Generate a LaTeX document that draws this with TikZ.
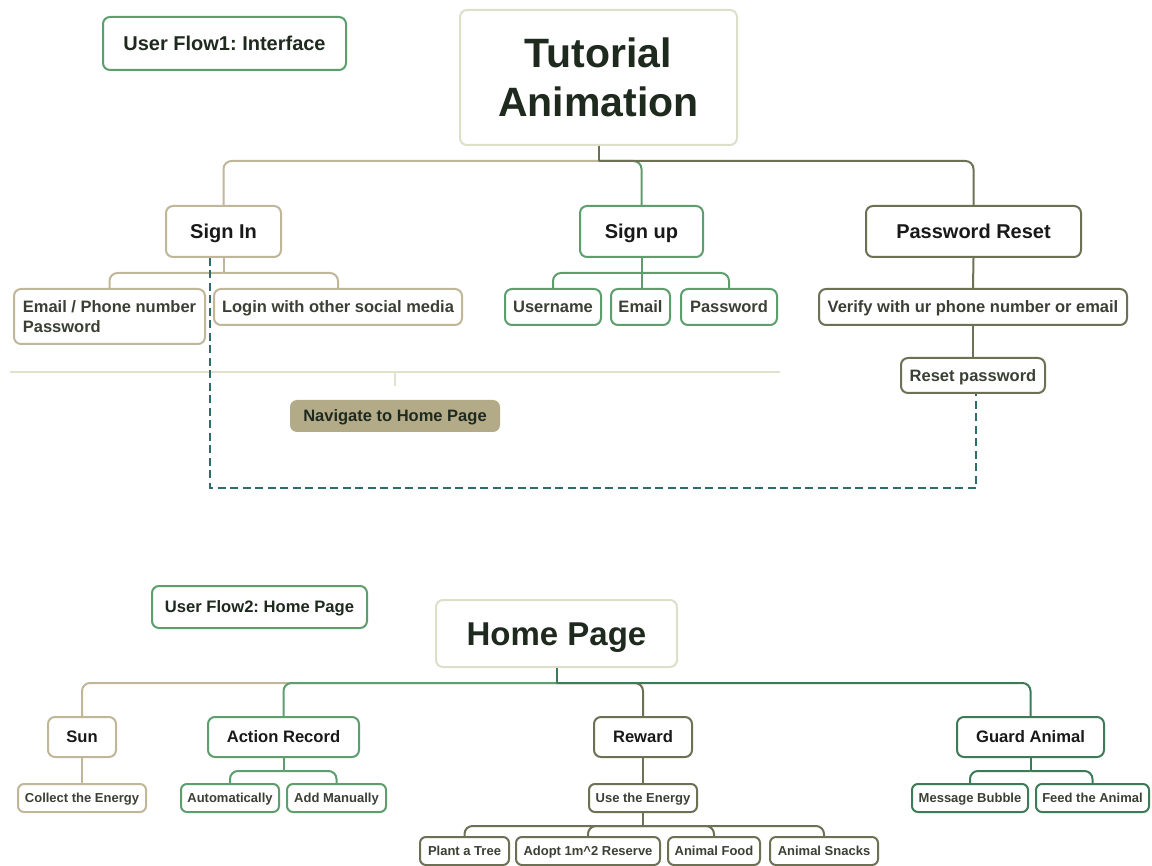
\documentclass[tikz,border=0pt]{standalone}
\usepackage{fontspec}
\setmainfont{Liberation Sans}
\frenchspacing
\definecolor{tanc}{HTML}{C0B699}
\definecolor{greenc}{HTML}{5E9E6E}
\definecolor{olivec}{HTML}{6E7055}
\definecolor{dgreenc}{HTML}{3E7A57}
\definecolor{beigec}{HTML}{DEDFCA}
\definecolor{tealc}{HTML}{2C6E6C}
\definecolor{navfill}{HTML}{B3AA88}
\definecolor{sepc}{HTML}{E2E2CC}
\definecolor{txtdark}{HTML}{1F2A1F}
\definecolor{txtchild}{HTML}{3A4034}
\newcommand{\fsz}[1]{\fontsize{#1}{#1}\selectfont\bfseries}
\tikzset{
  box/.style={draw, rounded corners=7pt, line width=2pt, fill=white, inner sep=0pt, align=center},
  bw/.style 2 args={minimum width=#1, minimum height=#2},
  lvtitle/.style={font=\fontsize{41}{49}\selectfont\bfseries, text=txtdark},
  lvone/.style={font=\fsz{20}, text=black!90, text height=18.3pt, text depth=4pt},
  lvtwo/.style={font=\fontsize{16.5}{20}\selectfont\bfseries, text=txtchild},
  vtwo/.style={text height=15.1pt, text depth=3.3pt},
  lvsub/.style={font=\fsz{16.6}, text=black!90, text height=15.2pt, text depth=3.3pt},
  lvsmall/.style={font=\fsz{13}, text=txtchild, rounded corners=6pt, text height=11.9pt, text depth=2.6pt},
  conn/.style={line width=2pt, rounded corners=8pt},
  dashconn/.style={line width=2pt, tealc, dash pattern=on 8pt off 4.5pt},
}
\begin{document}
\begin{tikzpicture}[x=1pt,y=-1pt]
\useasboundingbox (0,0) rectangle (1152,866);

% ---------- User flow 1 ----------
\node[box, draw=greenc, bw={243}{53}, lvone, text=txtdark] (uf1) at (224.5,43.5) {User Flow1: Interface};
\node[box, draw=beigec, bw={277}{135}, lvtitle] (tut) at (598.5,77.5) {Tutorial\\Animation};

\node[box, draw=tanc, bw={115}{51}, lvone] (si) at (223.5,231.5) {Sign In};
\node[box, draw=greenc, bw={123}{51}, lvone] (su) at (641.5,231.5) {Sign up};
\node[box, draw=olivec, bw={215}{51}, lvone] (pr) at (973.5,231.5) {Password Reset};

\node[box, draw=tanc, bw={191}{55}, lvtwo, align=left] (ep) at (109.5,316.5) {Email / Phone number\\Password};
\node[box, draw=tanc, bw={248}{36}, lvtwo, vtwo] (lo) at (338,307) {Login with other social media};
\node[box, draw=greenc, bw={96}{36}, lvtwo, vtwo] (un) at (553,307) {Username};
\node[box, draw=greenc, bw={59}{36}, lvtwo, vtwo] (em) at (640.5,307) {Email};
\node[box, draw=greenc, bw={96}{36}, lvtwo, vtwo] (pw) at (729,307) {Password};
\node[box, draw=olivec, bw={308}{36}, lvtwo, vtwo] (ve) at (973,307) {Verify with ur phone number or email};
\node[box, draw=olivec, bw={144}{35}, lvtwo, vtwo] (rp) at (973,375.5) {Reset password};

\node[box, draw=none, fill=navfill, bw={210}{32}, lvtwo, vtwo, text=txtdark] (nav) at (395,416) {Navigate to Home Page};

% connectors top tree
\draw[line width=2pt, tanc] (tut.south) -- ++(0,15) coordinate (jt);
\draw[conn, tanc] (jt) -| (si.north);
\draw[conn, greenc] (jt) -| (su.north);
\draw[conn, olivec] (jt) -| (pr.north);
\draw[line width=2pt, olivec] (tut.south) -- (jt);

\draw[line width=2pt, tanc] (si.south) -- ++(0,15) coordinate (jsi);
\draw[conn, tanc] (jsi) -| (ep.north);
\draw[conn, tanc] (jsi) -| (lo.north);

\draw[line width=2pt, greenc] (su.south) -- ++(0,15) coordinate (jsu);
\draw[conn, greenc] (jsu) -| (un.north);
\draw[line width=2pt, greenc] (jsu) -- (em.north -| jsu);
\draw[conn, greenc] (jsu) -| (pw.north);

\draw[line width=2pt, olivec] (pr.south) -- (ve.north);
\draw[line width=2pt, olivec] (ve.south) -- (rp.north);

% separator
\coordinate (sepL) at (10,372);
\coordinate (sepR) at (780,372);
\draw[line width=2pt, sepc] (sepL) -- (sepR);
\draw[line width=1.5pt, sepc] (nav.north |- sepL) -- ([yshift=13pt]nav.north);

% dashed loop
\draw[dashconn] ([xshift=-13.5pt]si.south) -- ++(0,230) -| ([xshift=3pt]rp.south);

% ---------- User flow 2 ----------
\node[box, draw=greenc, bw={215}{42}, lvsub, text=txtdark] (uf2) at (259.5,607) {User Flow2: Home Page};
\node[box, draw=beigec, bw={241}{67}, font=\fsz{33}, text=txtdark, text height=30.2pt, text depth=6.6pt] (hp) at (556.5,633.5) {Home Page};

\node[box, draw=tanc, bw={68}{40}, lvsub] (sun) at (82,737) {Sun};
\node[box, draw=greenc, bw={151}{40}, lvsub] (ar) at (283.5,737) {Action Record};
\node[box, draw=olivec, bw={98}{40}, lvsub] (rw) at (643,737) {Reward};
\node[box, draw=dgreenc, bw={147}{40}, lvsub] (ga) at (1030.5,737) {Guard Animal};

\node[box, draw=tanc, bw={128}{28}, lvsmall] (ce) at (82,798) {Collect the Energy};
\node[box, draw=greenc, bw={98}{28}, lvsmall] (au) at (230,798) {Automatically};
\node[box, draw=greenc, bw={99}{28}, lvsmall] (am) at (336.5,798) {Add Manually};
\node[box, draw=olivec, bw={108}{28}, lvsmall] (ue) at (643,798) {Use the Energy};
\node[box, draw=dgreenc, bw={116}{28}, lvsmall] (mb) at (970,798) {Message Bubble};
\node[box, draw=dgreenc, bw={113}{28}, lvsmall] (fa) at (1092.5,798) {Feed the Animal};

\node[box, draw=olivec, bw={89}{28}, lvsmall] (pt) at (464.5,851) {Plant a Tree};
\node[box, draw=olivec, bw={144}{28}, lvsmall] (ad) at (588,851) {Adopt 1m\^{}2 Reserve};
\node[box, draw=olivec, bw={92}{28}, lvsmall] (af) at (714,851) {Animal Food};
\node[box, draw=olivec, bw={108}{28}, lvsmall] (an) at (824,851) {Animal Snacks};

% connectors bottom tree
\draw[line width=2pt, greenc] (hp.south) -- ++(0,15) coordinate (jh);
\draw[conn, tanc] (jh) -| (sun.north);
\draw[conn, greenc] (jh) -| (ar.north);
\draw[conn, olivec] (jh) -| (rw.north);
\draw[conn, dgreenc] (jh) -| (ga.north);
\draw[line width=2pt, dgreenc] (hp.south) -- (jh);

\draw[line width=2pt, tanc] (sun.south) -- (ce.north);

\draw[line width=2pt, greenc] (ar.south) -- ++(0,13) coordinate (jar);
\draw[conn, greenc] (jar) -| (au.north);
\draw[conn, greenc] (jar) -| (am.north);

\draw[line width=2pt, olivec] (rw.south) -- (ue.north);
\draw[line width=2pt, olivec] (ue.south) -- ++(0,13) coordinate (jue);
\draw[conn, olivec] (jue) -| (pt.north);
\draw[conn, olivec] (jue) -| (ad.north);
\draw[conn, olivec] (jue) -| (af.north);
\draw[conn, olivec] (jue) -| (an.north);

\draw[line width=2pt, dgreenc] (ga.south) -- ++(0,13) coordinate (jga);
\draw[conn, dgreenc] (jga) -| (mb.north);
\draw[conn, dgreenc] (jga) -| (fa.north);
\end{tikzpicture}
\end{document}
